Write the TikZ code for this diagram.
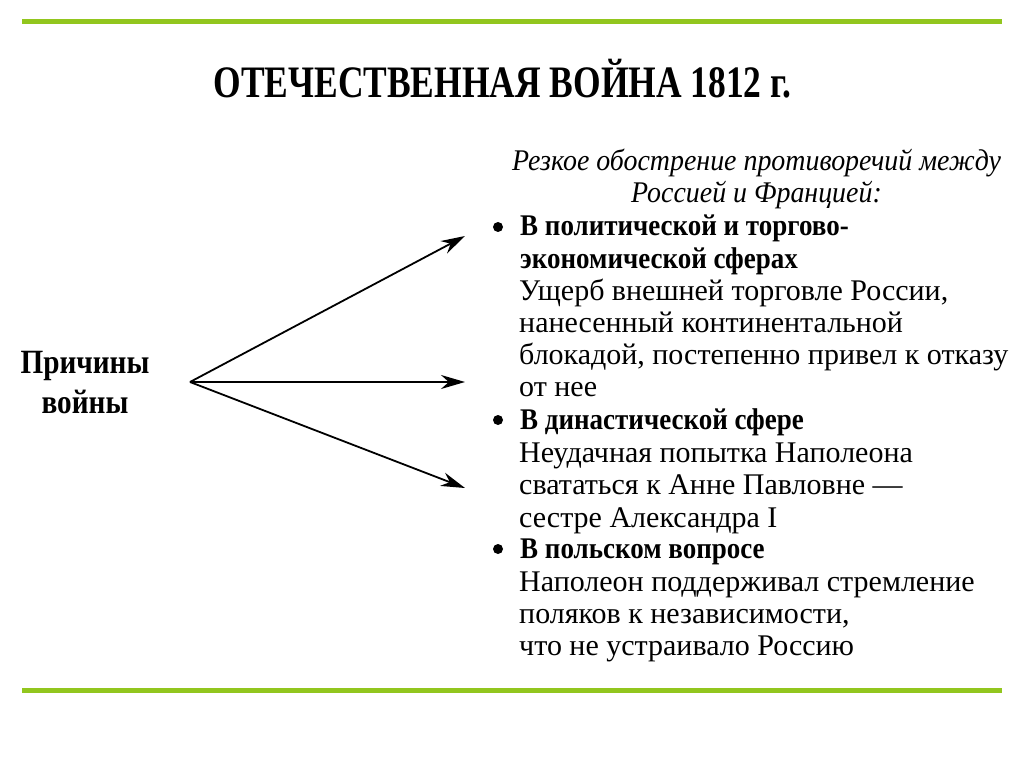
\documentclass[tikz,border=0pt]{standalone}
\usepackage{fontspec}
\setmainfont{Liberation Serif}
\usetikzlibrary{arrows.meta}
\definecolor{lgreen}{RGB}{146,198,30}
\begin{document}
\begin{tikzpicture}[x=1pt,y=-1pt,
  rule/.style={lgreen,line width=5pt},
  body/.style={anchor=base west,inner sep=0pt,font=\fontsize{30}{34}\selectfont},
  bhead/.style={anchor=base west,inner sep=0pt,font=\fontsize{30}{34}\selectfont\bfseries},
  ital/.style={anchor=base,inner sep=0pt,font=\fontsize{30}{34}\selectfont\itshape},
  bul/.style={circle,fill=black,inner sep=0pt,minimum size=10pt},
  conn/.style={line width=1.8pt,-{Stealth[length=24pt,width=14pt]}}
]
\useasboundingbox (0,0) rectangle (1024,767);
\fill[white] (0,0) rectangle (1024,767);
\draw[rule] (22,22) -- (1002,22);
\draw[rule] (22,690) -- (1002,690);

\node[anchor=base,inner sep=0pt,font=\fontsize{45}{50}\selectfont\bfseries] (title) at (502.5,98) {\scalebox{0.788}[1]{ОТЕЧЕСТВЕННАЯ ВОЙНА 1812 г.}};

\node[anchor=base,inner sep=0pt,font=\fontsize{34}{38}\selectfont\bfseries] (c1) at (85,373) {\scalebox{0.86}[1]{Причины}};
\node[anchor=base,inner sep=0pt,font=\fontsize{34}{38}\selectfont\bfseries] (c2) at (85,413) {\scalebox{0.86}[1]{войны}};

\coordinate (src) at (190,382);
\coordinate (t1) at (465,236);
\coordinate (t2) at (465,382);
\coordinate (t3) at (465,488);
\draw[conn] (src) -- (t1);
\draw[conn] (src) -- (t2);
\draw[conn] (src) -- (t3);

\node[ital] (i1) at (756.5,171) {\scalebox{0.93}[1]{Резкое обострение противоречий между}};
\node[ital] (i2) at (756.5,203) {\scalebox{0.93}[1]{Россией и Францией:}};

\node[bul] (b1) at (498,227) {};
\node[bhead] (h1a) at (520,236) {\scalebox{0.9}[1]{В политической и торгово-}};
\node[bhead] (h1b) at (520,268) {\scalebox{0.9}[1]{экономической сферах}};
\node[body] (l1) at (519,300) {Ущерб внешней торговле России,};
\node[body] (l2) at (519,332) {нанесенный континентальной};
\node[body] (l3) at (519,364) {блокадой, постепенно привел к отказу};
\node[body] (l4) at (519,396) {от нее};

\node[bul] (b2) at (498,420) {};
\node[bhead] (h2) at (520,429) {\scalebox{0.9}[1]{В династической сфере}};
\node[body] (l5) at (519,462) {Неудачная попытка Наполеона};
\node[body] (l6) at (519,494) {свататься к Анне Павловне —};
\node[body] (l7) at (519,527) {сестре Александра I};

\node[bul] (b3) at (498,549) {};
\node[bhead] (h3) at (520,558) {\scalebox{0.9}[1]{В польском вопросе}};
\node[body] (l8) at (519,591) {Наполеон поддерживал стремление};
\node[body] (l9) at (519,623) {поляков к независимости,};
\node[body] (l10) at (519,655) {что не устраивало Россию};
\end{tikzpicture}
\end{document}
